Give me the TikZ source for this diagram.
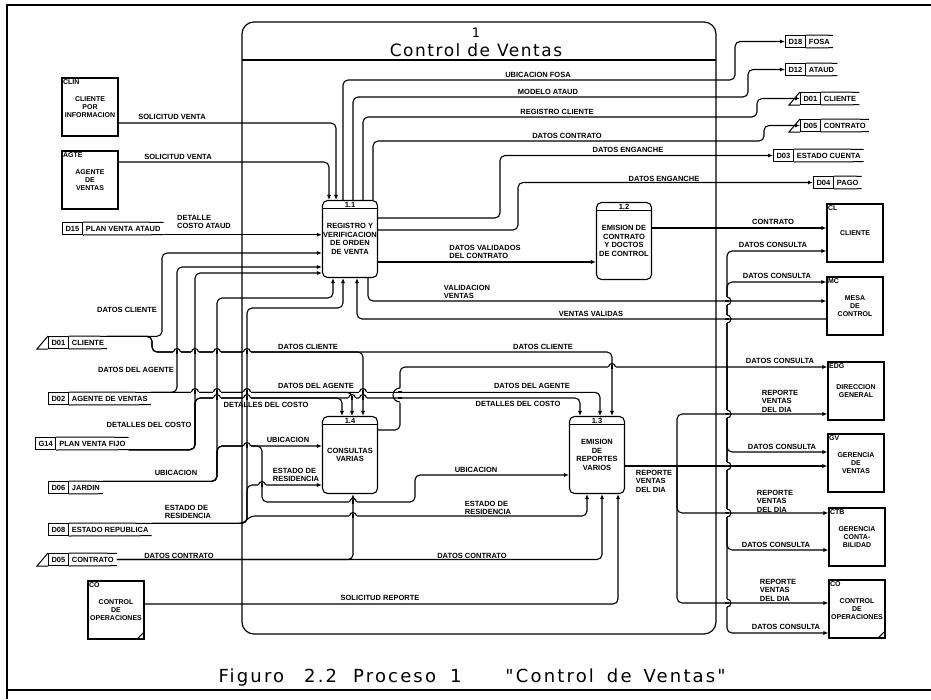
\documentclass[tikz,border=0pt]{standalone}
\usepackage{fontspec}
\setmainfont{Liberation Sans}
\newfontfamily\ttlfont[LetterSpace=9]{DejaVu Sans}
\newfontfamily\capfont[LetterSpace=12]{DejaVu Sans}
\newcommand\lblfont{\bfseries\fontsize{7.5}{8.5}\selectfont}
\newcommand\entfont{\bfseries\fontsize{7}{8}\selectfont}
\usetikzlibrary{arrows.meta, positioning}

\begin{document}
\begin{tikzpicture}[x=1pt, y=-1pt,
    lbl/.style={font=\lblfont, inner sep=0pt, align=left},
    ent/.style={draw, line width=1.1pt, minimum width=56pt, minimum height=58pt,
      inner sep=0pt, align=center, font=\entfont},
    tag/.style={font=\entfont, inner sep=1.5pt, anchor=north west},
    proc/.style={draw, line width=1.1pt, rounded corners=5pt, minimum width=55pt,
      minimum height=77pt, inner sep=0pt, align=center, font=\lblfont},
    dsid/.style={draw, line width=1pt, anchor=north west, minimum height=12pt,
      inner xsep=3pt, inner ysep=1pt, font=\lblfont},
    dstx/.style={minimum height=12pt, inner xsep=3pt, inner ysep=1pt, font=\lblfont},
    flow/.style={line width=1.1pt, rounded corners=5pt, -{Latex[length=5pt,width=4pt]}},
    wire/.style={line width=1.1pt}
  ]
  \useasboundingbox (0,0) rectangle (931,699);
  \draw[line width=1.2pt] (931,5) -- (7,5) -- (7,699);
  \draw[line width=1.2pt] (7,690) -- (931,690);

  % process boundary
  \draw[line width=1.2pt, rounded corners=12pt] (242,22) rectangle (716,634);
  \draw[line width=1.2pt] (242,60) -- (716,60);
  \node[font=\ttlfont\fontsize{13}{13}\selectfont] (ttlnum) at (476,33) {1};
  \node[font=\ttlfont\fontsize{17}{17}\selectfont] (ttl) at (476,50) {Control de Ventas};

  % external entities
  \node[ent, label={[tag]north west:CLIN}] (clin) at (90,107) {CLIENTE\\POR\\INFORMACION};
  \node[ent, label={[tag]north west:AGTE}] (agte) at (90,180) {AGENTE\\DE\\VENTAS};
  \node[ent, label={[tag]north west:CL}] (cl) at (855,233) {CLIENTE};
  \node[ent, label={[tag]north west:MC}] (mc) at (855,306) {MESA\\DE\\CONTROL};
  \node[ent, label={[tag]north west:EDG}] (edg) at (856,391) {DIRECCION\\GENERAL};
  \node[ent, label={[tag]north west:GV}] (gv) at (856,463) {GERENCIA\\DE\\VENTAS};
  \node[ent, label={[tag]north west:CTB}] (ctb) at (857,537) {GERENCIA\\CONTA-\\BILIDAD};
  \node[ent, label={[tag]north west:CO}] (cor) at (857,609) {CONTROL\\DE\\OPERACIONES};
  \node[ent, label={[tag]north west:CO}] (col) at (116,610) {CONTROL\\DE\\OPERACIONES};
  \draw[wire] ([xshift=-8pt]cor.south east) -- ([yshift=8pt]cor.south east);
  \draw[wire] ([xshift=-8pt]col.south east) -- ([yshift=8pt]col.south east);

  % processes
  \node[proc] (p11) at (350,239) {REGISTRO Y\\VERIFICACION\\DE ORDEN\\DE VENTA};
  \node[proc] (p12) at (624,241) {EMISION DE\\CONTRATO\\Y DOCTOS\\DE CONTROL};
  \node[proc] (p14) at (350,455) {CONSULTAS\\VARIAS};
  \node[proc] (p13) at (597,455) {EMISION\\DE\\REPORTES\\VARIOS};
  \foreach \p/\n in {p11/1.1, p12/1.2, p13/1.3, p14/1.4} {
    \draw[line width=1pt] ([yshift=-9pt]\p.north west) -- ([yshift=-9pt]\p.north east);
    \node[lbl] (n-\p) at ([yshift=-4.5pt]\p.north) {\n};
  }

  % data stores
  \node[dsid] (id-d15) at (62,222) {D15};
  \node[dstx, right=0pt of id-d15] (tx-d15) {PLAN VENTA ATAUD};
  \node[dsid] (id-d01l) at (48,336) {D01};
  \node[dstx, right=0pt of id-d01l] (tx-d01l) {CLIENTE};
  \node[dsid] (id-d02) at (48,392) {D02};
  \node[dstx, right=0pt of id-d02] (tx-d02) {AGENTE DE VENTAS};
  \node[dsid] (id-g14) at (35,437) {G14};
  \node[dstx, right=0pt of id-g14] (tx-g14) {PLAN VENTA FIJO};
  \node[dsid] (id-d06) at (48,481) {D06};
  \node[dstx, right=0pt of id-d06] (tx-d06) {JARDIN};
  \node[dsid] (id-d08) at (48,523) {D08};
  \node[dstx, right=0pt of id-d08] (tx-d08) {ESTADO REPUBLICA};
  \node[dsid] (id-d05l) at (48,553) {D05};
  \node[dstx, right=0pt of id-d05l] (tx-d05l) {CONTRATO};
  \node[dsid] (id-d18) at (785,35) {D18};
  \node[dstx, right=0pt of id-d18] (tx-d18) {FOSA};
  \node[dsid] (id-d12) at (785,63) {D12};
  \node[dstx, right=0pt of id-d12] (tx-d12) {ATAUD};
  \node[dsid] (id-d01r) at (800,92) {D01};
  \node[dstx, right=0pt of id-d01r] (tx-d01r) {CLIENTE};
  \node[dsid] (id-d05r) at (800,119) {D05};
  \node[dstx, right=0pt of id-d05r] (tx-d05r) {CONTRATO};
  \node[dsid] (id-d03) at (773,149) {D03};
  \node[dstx, right=0pt of id-d03] (tx-d03) {ESTADO CUENTA};
  \node[dsid] (id-d04) at (813,176) {D04};
  \node[dstx, right=0pt of id-d04] (tx-d04) {PAGO};
  \foreach \s in {d15,d01l,d02,g14,d06,d08,d05l,d18,d12,d01r,d05r,d03,d04}
    \draw[line width=1pt] (id-\s.north east) -- (tx-\s.north east)
      (id-\s.south east) -- (tx-\s.south east);
  \foreach \s in {d01l,d05l,d01r,d05r}
    \draw[line width=1pt] (id-\s.north west) -- ([xshift=-11pt]id-\s.south west) -- (id-\s.south west);

  % flows of 1.1
  \draw[flow] (clin.east |- 0,123) -- (336,123) -- (336,0 |- p11.north);
  \draw[flow] (agte.east |- 0,162) -- (329,162) -- (329,0 |- p11.north);
  \draw[flow] (tx-d15.south east) -- (tx-d15.south east -| p11.west);
  \draw[flow] (343,0 |- p11.north) -- (343,80) -- (735,80) -- (735,0 |- id-d18.west) -- (id-d18.west);
  \draw[flow] (353,0 |- p11.north) -- (353,97) -- (748,97) -- (748,0 |- id-d12.west) -- (id-d12.west);
  \draw[flow] (363,0 |- p11.north) -- (363,117) -- (757,117) -- (757,0 |- id-d01r.west) -- (id-d01r.west);
  \draw[flow] (373,0 |- p11.north) -- (373,141) -- (764,141) -- (764,0 |- id-d05r.west) -- (id-d05r.west);
  \draw[flow] (p11.east |- 0,218) -- (500,218) -- (500,0 |- id-d03.west) -- (id-d03.west);
  \draw[flow] (p11.east |- 0,230) -- (518,230) -- (518,0 |- id-d04.west) -- (id-d04.west);
  \draw[flow] (p11.east |- 0,262) -- (p12.west |- 0,262);
  \draw[flow] (p12.east |- 0,228) -- (cl.west |- 0,228);
  \draw[flow] (368,0 |- p11.south) -- (368,301) -- (mc.west |- 0,301);
  \draw[flow] (mc.west |- 0,319) -- (357,319) -- (357,0 |- p11.south);
  \draw[flow] (tx-d01l.north east) -- (162,0 |- tx-d01l.north east) -- (162,253) -- (p11.west |- 0,253);
  \draw[flow] (tx-d02.north east) -- (177,0 |- tx-d02.north east) -- (177,267) -- (p11.west |- 0,267);
  \draw[flow] (tx-g14.south east) -- (195,0 |- tx-g14.south east) -- (195,273) -- (p11.west |- 0,273);
  \draw[flow] (tx-d06.north east) -- (217,0 |- tx-d06.north east) -- (217,298) -- (333,298) -- (333,0 |- p11.south);
  \draw[flow] (tx-d08.north east) -- (247,0 |- tx-d08.north east) -- (247,308) -- (343,308) -- (343,0 |- p11.south);

  % flows of 1.4 and 1.3
  \draw[flow] (tx-d01l.north east) -- (152,0 |- tx-d01l.north east) -- (152,352) -- (363,352) -- (363,0 |- p14.north);
  \draw[flow] (tx-d01l.north east) -- (152,0 |- tx-d01l.north east) -- (152,352) -- (612,352) -- (612,0 |- p13.north);
  \draw[flow] (tx-d02.north east) -- (352,0 |- tx-d02.north east) -- (352,0 |- p14.north);
  \draw[flow] (tx-d02.north east) -- (600,0 |- tx-d02.north east) -- (600,0 |- p13.north);
  \draw[flow] (tx-g14.south east) -- (195,0 |- tx-g14.south east) -- (195,398) -- (342,398) -- (342,0 |- p14.north);
  \draw[flow] (tx-g14.south east) -- (195,0 |- tx-g14.south east) -- (195,398) -- (580,398) -- (580,0 |- p13.north);
  \draw[flow] (tx-d06.north east) -- (217,0 |- tx-d06.north east) -- (217,446) -- (p14.west |- 0,446);
  \draw[flow] (tx-d06.north east) -- (217,0 |- tx-d06.north east) -- (217,446) -- (262,446) -- (262,502)
    -- (415,502) -- (415,475) -- (p13.west |- 0,475);
  \draw[flow] (tx-d08.north east) -- (247,0 |- tx-d08.north east) -- (247,485) -- (p14.west |- 0,485);
  \draw[flow] (tx-d08.north east) -- (244,0 |- tx-d08.north east) -- (250,516) -- (587,516) -- (587,0 |- p13.south);
  \draw[flow] (tx-d05l.east) -- (353,0 |- tx-d05l.east) -- (353,0 |- p14.south);
  \draw[flow] (tx-d05l.east) -- (602,0 |- tx-d05l.east) -- (602,0 |- p13.south);
  \draw[flow] (col.east |- 0,604) -- (618,604) -- (618,0 |- p13.south);

  % consultas and reportes
  \coordinate (cbus) at (727,367);
  \coordinate (crep) at (677,466);
  \draw[flow] (p14.east |- 0,430) -- (400,430) -- (400,367) -- (edg.west |- cbus);
  \draw[flow] (cbus) -- (727,251) -- (cl.west |- 0,251);
  \draw[flow] (cbus) -- (727,282) -- (mc.west |- 0,282);
  \draw[flow] (cbus) -- (727,452) -- (gv.west |- 0,452);
  \draw[flow] (cbus) -- (727,550) -- (ctb.west |- 0,550);
  \draw[flow] (cbus) -- (727,633) -- (cor.west |- 0,633);
  \draw[flow] (p13.east |- crep) -- (gv.west |- crep);
  \draw[flow] (crep) -- (677,414) -- (edg.west |- 0,414);
  \draw[flow] (crep) -- (677,513) -- (ctb.west |- 0,513);
  \draw[flow] (crep) -- (677,603) -- (cor.west |- 0,603);

  % hops
  \foreach \hx/\hy in {177/352,195/352,217/352,247/352,195/392,217/392,247/392,363/392,
      217/398,247/398,352/398,363/398,247/446,262/485,353/502,353/516,612/367} {
    \fill[white] (\hx-3.8,\hy-1.6) rectangle (\hx+3.8,\hy+1.6);
    \draw[wire] (\hx,\hy-2) -- (\hx,\hy+2);
    \draw[wire] (\hx-3.5,\hy) arc[start angle=180, end angle=0, radius=3.5pt];
  }
  \foreach \hy in {301,319,414,466,513,603} {
    \fill[white] (725.4,\hy-4.3) rectangle (728.6,\hy+4.3);
    \draw[wire] (725,\hy) -- (729,\hy);
    \draw[wire] (727,\hy+4) arc[start angle=-90, end angle=90, radius=4pt];
  }
  \fill[white] (398.4,387.5) rectangle (401.6,402.5);
  \draw[wire] (398,392) -- (402,392) (398,398) -- (402,398);
  \draw[wire] (400,402) arc[start angle=270, end angle=90, radius=7pt];

  % labels
  \node[lbl] (l-sv1) at (172,117) {SOLICITUD VENTA};
  \node[lbl] (l-sv2) at (178,157) {SOLICITUD VENTA};
  \node[lbl] (l-dca) at (204,222) {DETALLE\\COSTO ATAUD};
  \node[lbl] (l-ufo) at (538,75) {UBICACION FOSA};
  \node[lbl] (l-mat) at (548,92) {MODELO ATAUD};
  \node[lbl] (l-rcl) at (557,112) {REGISTRO CLIENTE};
  \node[lbl] (l-dco) at (567,136) {DATOS CONTRATO};
  \node[lbl] (l-de1) at (628,150) {DATOS ENGANCHE};
  \node[lbl] (l-de2) at (664,179) {DATOS ENGANCHE};
  \node[lbl] (l-dvc) at (485,252) {DATOS VALIDADOS\\DEL CONTRATO};
  \node[lbl] (l-con) at (773,222) {CONTRATO};
  \node[lbl] (l-dq1) at (773,245) {DATOS CONSULTA};
  \node[lbl] (l-dq2) at (777,276) {DATOS CONSULTA};
  \node[lbl] (l-vve) at (467,292) {VALIDACION\\VENTAS};
  \node[lbl] (l-vva) at (591,314) {VENTAS VALIDAS};
  \node[lbl] (l-dc1) at (127,310) {DATOS CLIENTE};
  \node[lbl] (l-da1) at (136,370) {DATOS DEL AGENTE};
  \node[lbl] (l-dt1) at (149,425) {DETALLES DEL COSTO};
  \node[lbl] (l-dc2) at (308,347) {DATOS CLIENTE};
  \node[lbl] (l-da2) at (316,386) {DATOS DEL AGENTE};
  \node[lbl] (l-dt2) at (266,405) {DETALLES DEL COSTO};
  \node[lbl] (l-dc3) at (543,347) {DATOS CLIENTE};
  \node[lbl] (l-da3) at (532,386) {DATOS DEL AGENTE};
  \node[lbl] (l-dt3) at (518,404) {DETALLES DEL COSTO};
  \node[lbl] (l-ub1) at (176,473) {UBICACION};
  \node[lbl] (l-ub2) at (288,440) {UBICACION};
  \node[lbl] (l-ub3) at (476,470) {UBICACION};
  \node[lbl] (l-er1) at (188,512) {ESTADO DE\\RESIDENCIA};
  \node[lbl] (l-er2) at (296,475) {ESTADO DE\\RESIDENCIA};
  \node[lbl] (l-er3) at (488,508) {ESTADO DE\\RESIDENCIA};
  \node[lbl] (l-dk1) at (179,556) {DATOS CONTRATO};
  \node[lbl] (l-dk2) at (472,556) {DATOS CONTRATO};
  \node[lbl] (l-sre) at (380,598) {SOLICITUD REPORTE};
  \node[lbl] (l-dq3) at (780,361) {DATOS CONSULTA};
  \node[lbl] (l-rv1) at (780,401) {REPORTE\\VENTAS\\DEL DIA};
  \node[lbl] (l-dq4) at (782,447) {DATOS CONSULTA};
  \node[lbl] (l-rv2) at (654,481) {REPORTE\\VENTAS\\DEL DIA};
  \node[lbl] (l-rv3) at (775,501) {REPORTE\\VENTAS\\DEL DIA};
  \node[lbl] (l-dq5) at (776,545) {DATOS CONSULTA};
  \node[lbl] (l-rv4) at (778,590) {REPORTE\\VENTAS\\DEL DIA};
  \node[lbl] (l-dq6) at (786,627) {DATOS CONSULTA};

  \node[font=\capfont\fontsize{18}{18}\selectfont, anchor=west] (cap) at (215,678)
    {Figuro\hspace{20pt}2.2\hspace{16pt}Proceso\hspace{14pt}1\hspace{44pt}"Control\hspace{13pt}de\hspace{12pt}Ventas"};
\end{tikzpicture}
\end{document}
